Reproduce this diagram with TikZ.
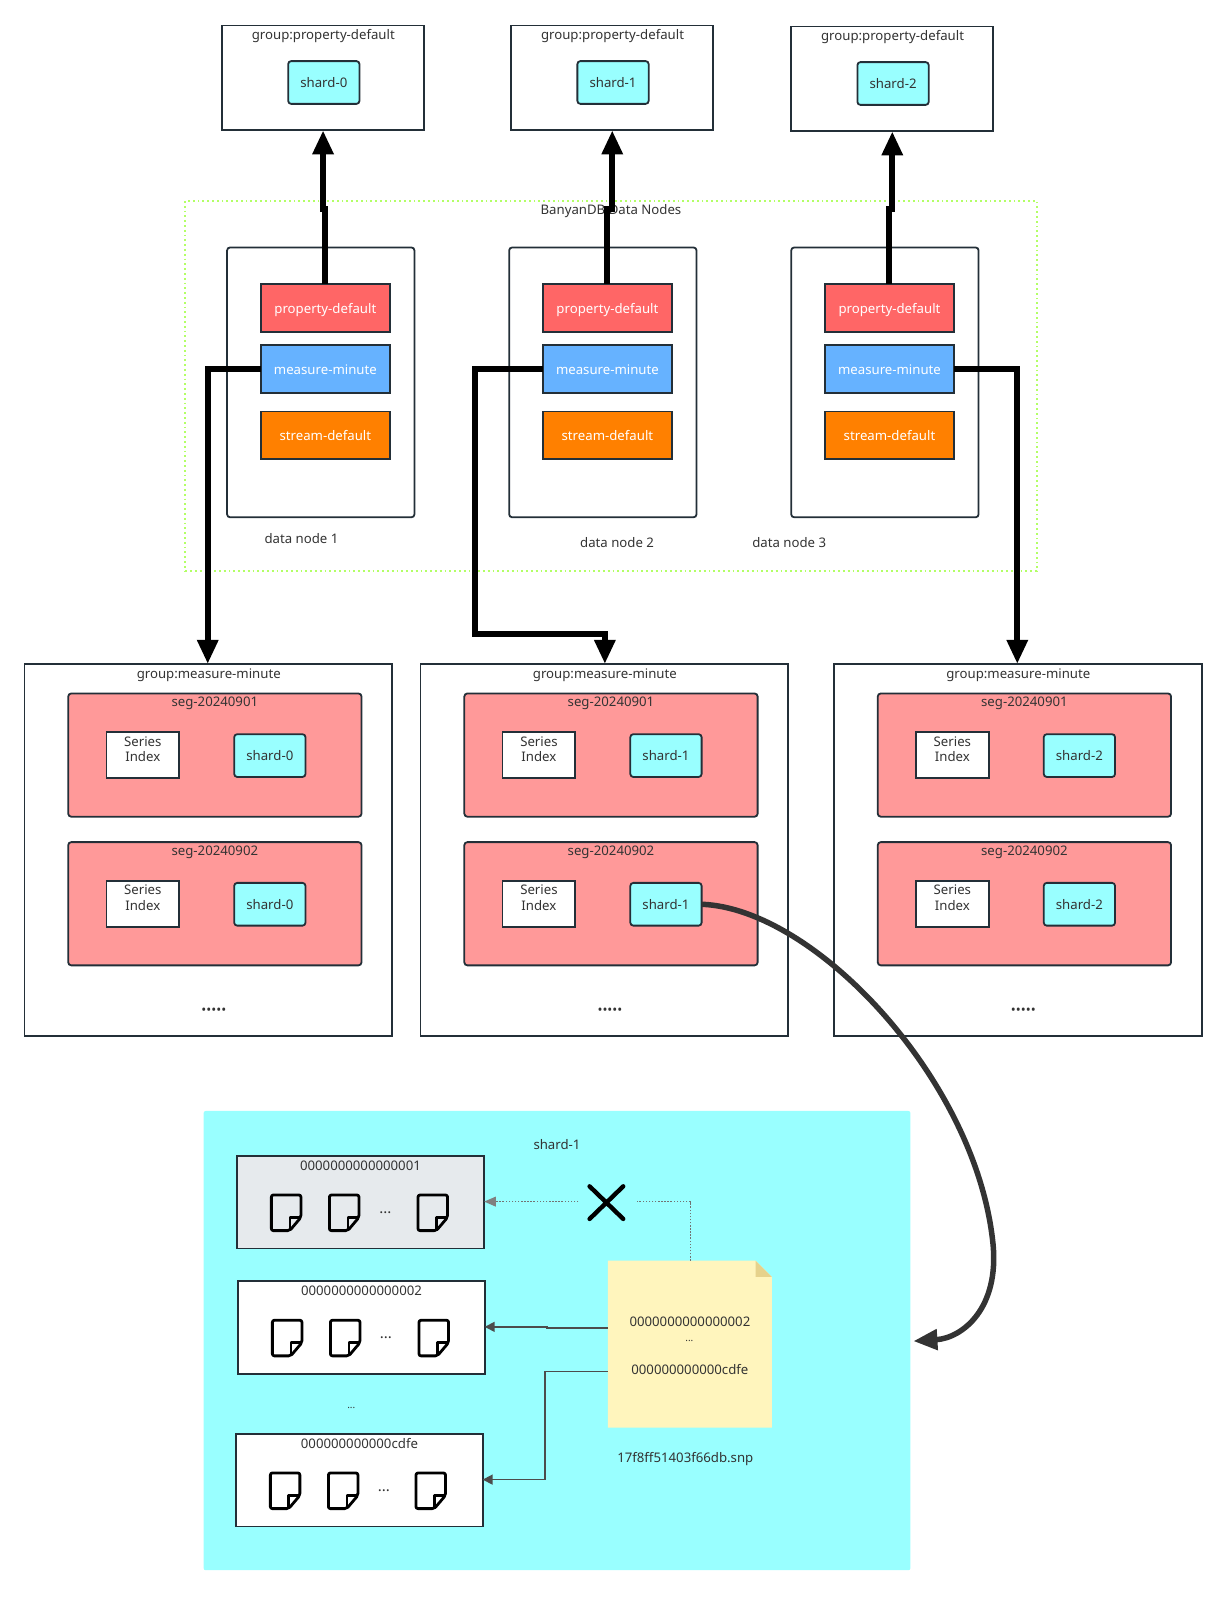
\documentclass[tikz,border=0pt]{standalone}
\usepackage{fontspec}
\setmainfont{Noto Sans}
\usetikzlibrary{arrows.meta}
\definecolor{inkline}{HTML}{232F38}
\definecolor{inktext}{HTML}{333333}
\definecolor{cyanfill}{HTML}{99FFFF}
\definecolor{segfill}{HTML}{FF9999}
\definecolor{propfill}{HTML}{FF6666}
\definecolor{measfill}{HTML}{66B2FF}
\definecolor{streamfill}{HTML}{FF8000}
\definecolor{greenline}{HTML}{B3FF66}
\definecolor{greyfill}{HTML}{E6EAED}
\definecolor{notefill}{HTML}{FFF5BD}
\definecolor{foldfill}{HTML}{E6D28C}
\newcommand{\boxstrut}{\rule[-4.5pt]{0pt}{19.5pt}}
\tikzset{
  x=1.01829pt, y=-1.01829pt,
  basebox/.style={draw=inkline, line width=1.8pt, inner sep=0pt, outer sep=0pt, align=center, font=\fontsize{13.2}{15.5}\selectfont, text=inktext},
  plainbox/.style={basebox, fill=white},
  softbox/.style={basebox, fill=white, rounded corners=3pt},
  shardbox/.style={basebox, fill=cyanfill, rounded corners=3pt},
  segbox/.style={basebox, fill=segfill, rounded corners=3pt},
  propbox/.style={basebox, fill=propfill, text=white},
  measbox/.style={basebox, fill=measfill, text=white},
  streambox/.style={basebox, fill=streamfill, text=white},
  greybox/.style={basebox, fill=greyfill},
  nodesframe/.style={draw=greenline, line width=1.8pt, dash pattern=on 1.8pt off 3pt, inner sep=0pt, outer sep=0pt},
  panel/.style={fill=cyanfill, rounded corners=2pt, inner sep=0pt, outer sep=0pt},
  caption/.style={text=inktext, inner sep=0pt, yshift=-2pt, font=\fontsize{13.2}{16}\selectfont},
  thickarrow/.style={draw=black, line width=6pt, -{Triangle[width=20pt,length=24pt]}},
  curvearrow/.style={draw=black!80, line width=5.5pt, -{Triangle[width=20pt,length=24pt]}},
  thinarrow/.style={draw=black!70, line width=1.6pt, -{Triangle[width=10pt,length=10pt]}},
  dotarrow/.style={draw=black!55, line width=1.5pt, dash pattern=on 1.5pt off 1.6pt},
  pics/docicon/.style={code={
    \draw[black, line width=2.8pt, rounded corners=2pt, line join=round]
      (19.5,36.5) -- (1.5,36.5) -- (1.5,1.5) -- (30.5,1.5) -- (30.5,23.5) -- cycle;
    \draw[black, line width=2.4pt, line join=round] (30.5,23.5) -- (19.5,23.5) -- (19.5,36.5);
  }},
}
% box from its corners: style, name, x1, y1, x2, y2, content
\newcommand{\cornerbox}[7]{%
  \pgfmathsetmacro{\cxv}{((#3)+(#5))/2}%
  \pgfmathsetmacro{\cyv}{((#4)+(#6))/2}%
  \pgfmathsetmacro{\wv}{((#5)-(#3))*1.01829}%
  \pgfmathsetmacro{\hv}{((#6)-(#4))*1.01829}%
  \node[#1, minimum width=\wv pt, minimum height=\hv pt] (#2) at (\cxv,\cyv) {#7};%
}
% one measure group: index, left edge, shard label
\newcommand{\measuregroup}[3]{%
  \cornerbox{plainbox}{grp#1}{#2}{652}{#2+361}{1017}{}
  \node[caption] (grp#1title) at (#2+181,661) {group:measure-minute};
  \foreach \s/\top/\lab in {a/681/seg-20240901,b/827/seg-20240902}{
    \cornerbox{segbox}{seg#1\s}{#2+43}{\top}{#2+331}{\top+121}{}
    \node[caption] (seg#1\s title) at (#2+187,\top+8) {\lab};
    \cornerbox{plainbox}{idx#1\s}{#2+80.5}{\top+38}{#2+152}{\top+83}{Series\\Index\rule[-12pt]{0pt}{0pt}}
    \cornerbox{shardbox}{sh#1\s}{#2+206}{\top+40}{#2+276}{\top+82}{\boxstrut #3}
  }
  \node[caption] (grp#1dots) at (#2+186,991) {•••••};
}
\begin{document}
\begin{tikzpicture}
\useasboundingbox (0,0) rectangle (1203,1568.3);

% property groups along the top
\foreach \n/\xa/\ya/\lab in {1/218/25/shard-0,2/502/25/shard-1,3/777/26/shard-2}{
  \cornerbox{plainbox}{top\n}{\xa}{\ya}{\xa+198.5}{\ya+103}{}
  \node[caption] (top\n title) at (\xa+99.5,\ya+8) {group:property-default};
  \cornerbox{shardbox}{topsh\n}{\xa+65}{\ya+35}{\xa+135}{\ya+77}{\boxstrut \lab}
}

% data nodes
\cornerbox{nodesframe}{frame}{182}{197}{1018}{561}{}
\node[caption] (frametitle) at (600,205) {BanyanDB Data Nodes};
\foreach \n/\xa in {1/223,2/500,3/777}{
  \cornerbox{softbox}{dn\n}{\xa}{243}{\xa+184}{508}{}
  \cornerbox{propbox}{prop\n}{\xa+33}{279}{\xa+160}{326}{\boxstrut property-default}
  \cornerbox{measbox}{meas\n}{\xa+33}{339}{\xa+160}{386}{\boxstrut measure-minute}
  \cornerbox{streambox}{strm\n}{\xa+33}{404}{\xa+160}{451}{\boxstrut stream-default}
}
\node[caption] (dnlabel1) at (296,527) {data node 1};
\node[caption] (dnlabel2) at (606,531) {data node 2};
\node[caption] (dnlabel3) at (775,531) {data node 3};

% measure groups
\measuregroup{1}{24}{shard-0}
\measuregroup{2}{413}{shard-1}
\measuregroup{3}{819}{shard-2}

% links from property groups in the data nodes up to their shards
\draw[thickarrow] (prop1.north) -- (prop1.north |- 0,205) -- (top1.south |- 0,205) -- (top1.south);
\draw[thickarrow] (prop2.north) -- (prop2.north |- 0,205) -- (top2.south |- 0,205) -- (top2.south);
\draw[thickarrow] (prop3.north) -- (prop3.north |- 0,205) -- (top3.south |- 0,205) -- (top3.south);

% links from measure groups down to their shards
\coordinate (m1in) at (204,652);
\coordinate (m2in) at (594,652);
\coordinate (m3in) at (999,652);
\draw[thickarrow] (meas1.west) -| (m1in);
\draw[thickarrow] (meas2.west) -- (466,362.5) -- (466,623) -- (594,623) -- (m2in);
\draw[thickarrow] (meas3.east) -| (m3in);

% shard detail panel
\cornerbox{panel}{shardpanel}{200}{1091}{894}{1542}{}
\node[caption] (paneltitle) at (547,1122) {shard-1};

\cornerbox{greybox}{part1}{233}{1135}{475}{1226}{}
\cornerbox{plainbox}{part2}{234}{1258}{476}{1349}{}
\cornerbox{plainbox}{part3}{232}{1408}{474}{1499}{}
\node[caption] (part1title) at (354,1142.5) {0000000000000001};
\node[caption] (part2title) at (355,1265.5) {0000000000000002};
\node[caption] (part3title) at (353,1415.5) {000000000000cdfe};

\foreach \xa/\ya in {265/1172,322/1172,409/1172,266/1295,323/1295,410/1295,264/1445,321/1445,407/1445}{
  \pic at (\xa,\ya) {docicon};
}
\node[caption, font=\fontsize{15}{16}\selectfont] (part1dots) at (378.5,1189) {...};
\node[caption, font=\fontsize{15}{16}\selectfont] (part2dots) at (379,1312) {...};
\node[caption, font=\fontsize{15}{16}\selectfont] (part3dots) at (377,1462) {...};
\node[caption, font=\fontsize{10}{11}\selectfont] (gapdots) at (345,1381) {...};

% manifest file
\fill[notefill] (597,1238) -- (742,1238) -- (758,1254) -- (758,1402) -- (597,1402) -- cycle;
\fill[foldfill] (742,1238) -- (758,1254) -- (742,1254) -- cycle;
\coordinate (notetop) at (678,1238);
\coordinate (noteleftA) at (597,1304);
\coordinate (noteleftB) at (597,1347);
\node[caption] (notetext1) at (677.5,1296) {0000000000000002};
\node[caption, font=\fontsize{10}{11}\selectfont] (notetext2) at (677,1315) {...};
\node[caption] (notetext3) at (677.5,1343) {000000000000cdfe};
\node[caption] (notename) at (673,1431) {17f8ff51403f66db.snp};

% removed reference, struck through
\coordinate (crossc) at (596,1181);
\draw[black, line width=4.4pt, line cap=round] (579,1165) -- (612,1197) (612,1165) -- (579,1197);
\coordinate (dotbreakR) at (626,1180);
\coordinate (dotbreakL) at (568,1180);
\draw[dotarrow] (notetop) |- (dotbreakR);
\draw[dotarrow] (dotbreakL) -- (484,1180);
\fill[black!50] (475.5,1180) -- (487,1175) -- (487,1185) -- cycle;

% live references
\draw[thinarrow] (noteleftA) -- (537,1304) -- (537,1303) -- (part2.east |- 0,1303);
\draw[thinarrow] (noteleftB) -- (535,1347) -- (535,1453) -- (part3.east |- 0,1453);

% from the shard to its detail panel
\coordinate (panelin) at (897,1317);
\draw[curvearrow] (sh2b.east) .. controls (800,892) and (958,1060) .. (975,1220)
  .. controls (982,1285) and (945,1314) .. (panelin);
\end{tikzpicture}
\end{document}
